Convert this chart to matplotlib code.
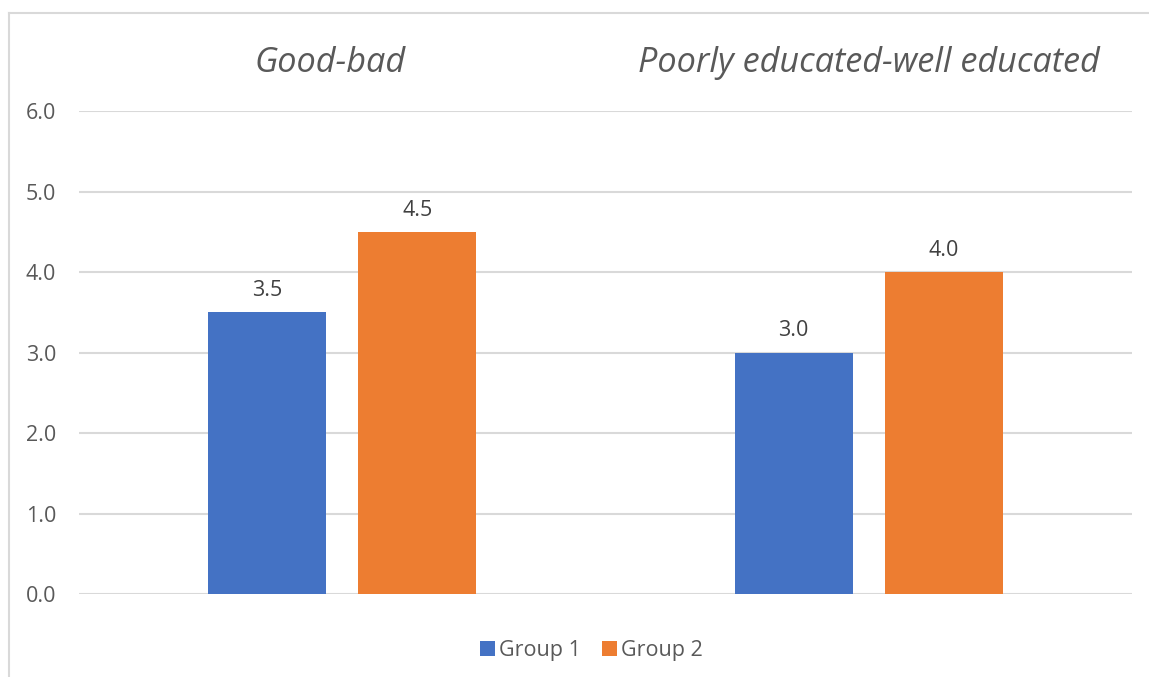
import numpy as np
import matplotlib.pyplot as plt
from matplotlib.lines import Line2D
from matplotlib.transforms import ScaledTranslation

categories = ['Good-bad', 'Poorly educated-well educated']
group1 = [3.5, 3.0]
group2 = [4.5, 4.0]
series_names = ['Group 1', 'Group 2']
colors = ['#4472C4', '#ED7D31']

plt.rcParams['font.family'] = ['Open Sans', 'DejaVu Sans']
text_color = '#595959'

fig = plt.figure(figsize=(11.49, 6.77), dpi=100)
ax = fig.add_axes([0.0688, 0.1226, 0.9164, 0.7134])

x = np.arange(len(categories))
w = 0.224
off = 0.1425
b1 = ax.bar(x - off, group1, w, color=colors[0], label=series_names[0], zorder=3)
b2 = ax.bar(x + off, group2, w, color=colors[1], label=series_names[1], zorder=3)
for b in (b1, b2):
    ax.bar_label(b, fmt='%.1f', padding=8, fontsize=15.5, color='#404040')

ax.set_xlim(-0.5, 1.5)
ax.set_ylim(0, 6)
ax.set_yticks(np.arange(0, 6.1, 1.0))
ax.set_yticklabels([f'{v:.1f}' for v in np.arange(0, 6.1, 1.0)])
ax.tick_params(axis='y', length=0, pad=16.5, labelsize=15.5, labelcolor=text_color)
ax.grid(axis='y', color='#d9d9d9', linewidth=1.5, zorder=0)

ax.xaxis.tick_top()
ax.set_xticks(x)
ax.set_xticklabels(categories, fontsize=24.7, style='italic', color=text_color)
ax.tick_params(axis='x', length=0, pad=22)
# first category title sits a little left of its group centre in the original
lbl = ax.get_xticklabels()[0]
lbl.set_transform(lbl.get_transform() + ScaledTranslation(-0.12, 0, fig.dpi_scale_trans))

for s in ax.spines.values():
    s.set_visible(False)

ax.legend(loc='upper center', bbox_to_anchor=(0.5 - 0.0135, -0.055), ncol=2, frameon=False,
          fontsize=15.5, labelcolor=text_color, handlelength=0.7, handleheight=0.7,
          handletextpad=0.2, columnspacing=0.95)

# chart border (left and top visible)
fig.add_artist(Line2D([0.0078, 0.0078], [0.0, 0.981], color='#d9d9d9', lw=1.5))
fig.add_artist(Line2D([0.0078, 1.0], [0.981, 0.981], color='#d9d9d9', lw=1.5))

fig.savefig('out.png', dpi=100)
